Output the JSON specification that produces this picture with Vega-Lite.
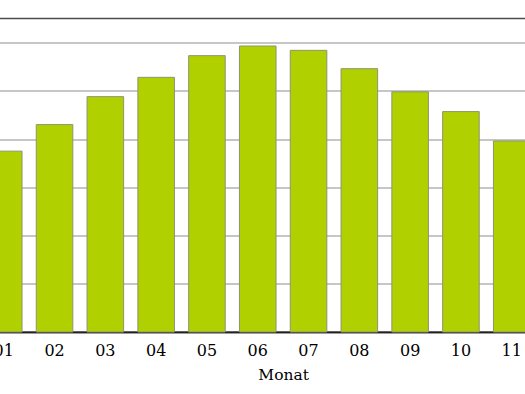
{
  "$schema": "https://vega.github.io/schema/vega-lite/v6.json",
  "width": 609.6,
  "height": 313.5,
  "autosize": {"type": "none"},
  "padding": {"left": -21.65, "top": 18.5, "right": 0, "bottom": 62},
  "background": "white",
  "config": {"view": {"stroke": "#4d4d4d", "strokeWidth": 1.5}, "font": "DejaVu Serif"},
  "data": {"values": [
    {"Monat": "01", "Wert": 3.75},
    {"Monat": "02", "Wert": 4.30},
    {"Monat": "03", "Wert": 4.88},
    {"Monat": "04", "Wert": 5.28},
    {"Monat": "05", "Wert": 5.73},
    {"Monat": "06", "Wert": 5.93},
    {"Monat": "07", "Wert": 5.84},
    {"Monat": "08", "Wert": 5.46},
    {"Monat": "09", "Wert": 4.98},
    {"Monat": "10", "Wert": 4.57},
    {"Monat": "11", "Wert": 3.96},
    {"Monat": "12", "Wert": 3.55}
  ]},
  "mark": {"type": "bar", "color": "#b0d000", "stroke": "#8f9473", "strokeWidth": 1},
  "encoding": {
    "x": {
      "field": "Monat", "type": "ordinal",
      "scale": {"paddingInner": 0.28, "paddingOuter": 0.14},
      "axis": {"title": "Monat", "labelAngle": 0, "labelFont": "DejaVu Serif", "labelFontSize": 16, "labelColor": "#000000", "ticks": false, "domainColor": "#222222", "domainWidth": 1.5, "labelPadding": 11, "titleFont": "DejaVu Serif", "titleFontSize": 15.5, "titleFontWeight": "normal", "titleColor": "#000000", "titlePadding": 9}
    },
    "y": {
      "field": "Wert", "type": "quantitative",
      "scale": {"domain": [0, 6.5], "nice": false},
      "axis": {"values": [0, 1, 2, 3, 4, 5, 6], "labels": false, "ticks": false, "domain": false, "title": null, "gridColor": "#b3b3b3", "gridWidth": 1.5}
    }
  }
}
